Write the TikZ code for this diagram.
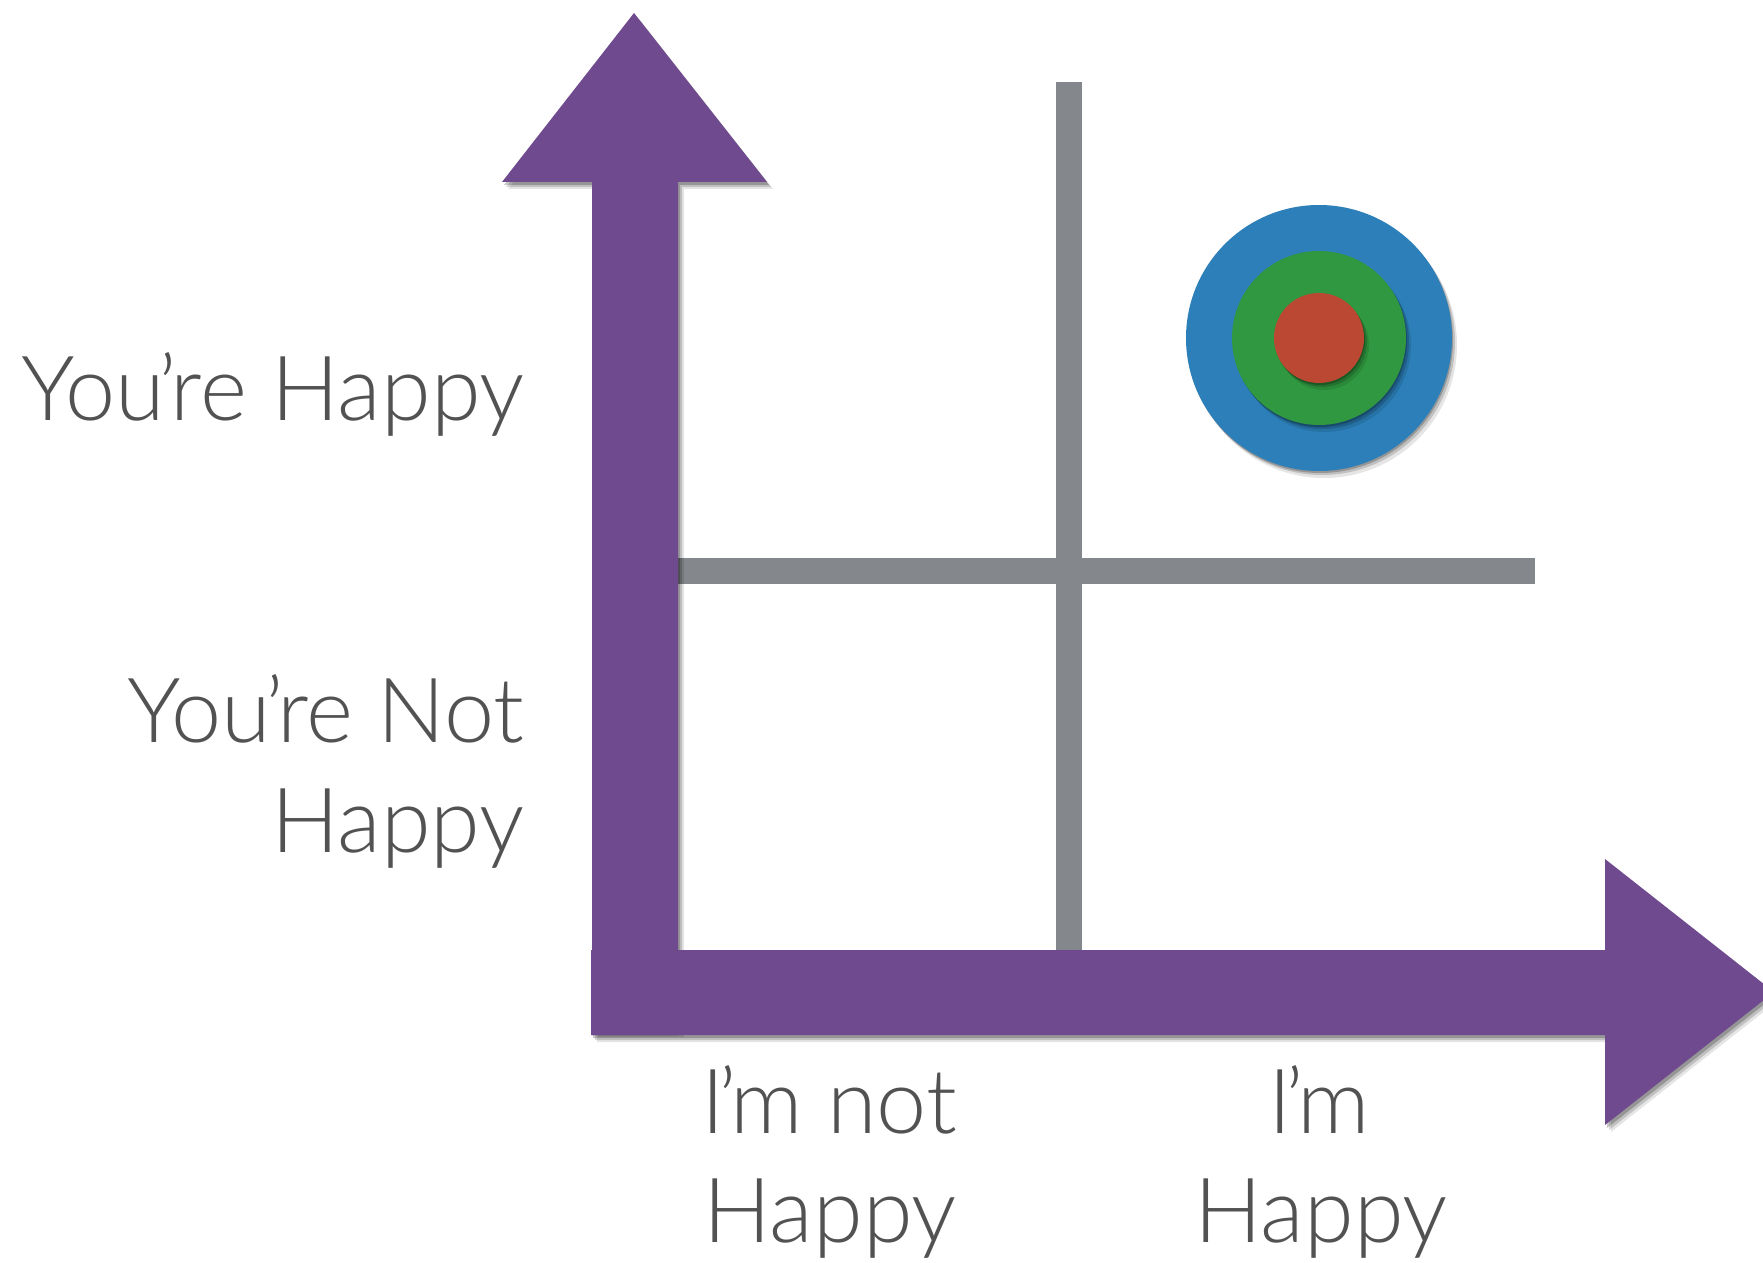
\documentclass[tikz,border=0pt]{standalone}
\usepackage{fontspec}
\setmainfont{Lato}[UprightFont=* Light]
\definecolor{feltpurple}{RGB}{111,74,143}
\definecolor{feltblue}{RGB}{44,127,184}
\definecolor{feltgreen}{RGB}{47,152,64}
\definecolor{feltred}{RGB}{187,72,50}
\definecolor{axisgray}{RGB}{132,135,139}
\definecolor{labelgray}{RGB}{82,82,82}
\newcommand\apos{\kern-0.07em’\kern-0.07em}
\tikzset{
  shadowA/.style={fill=black,opacity=0.10},
  shadowB/.style={fill=black,opacity=0.16},
  shadowC/.style={fill=black,opacity=0.22},
  labeltext/.style={text=labelgray,inner sep=0pt,font=\fontsize{45}{54}\selectfont},
  gridline/.style={fill=axisgray},
}
\def\vArrow{(592,1035) -- (592,182) -- (502,182) -- (634,13) -- (767,182) -- (678,182) -- (678,1035) -- cycle}
\def\vArrowShadow{(592,1030) -- (592,182) -- (502,182) -- (634,13) -- (767,182) -- (678,182) -- (678,1030) -- cycle}
\def\hArrow{(591,950) -- (1605,950) -- (1605,859) -- (1774,992) -- (1605,1125) -- (1605,1035) -- (591,1035) -- cycle}
\begin{document}
\begin{tikzpicture}[x=0.5pt,y=-0.5pt]
\useasboundingbox (0,0) rectangle (1763,1263);
\fill[white] (0,0) rectangle (1763,1263);
% grid lines
\fill[gridline] (1056,82) rectangle (1082,950);
\fill[gridline] (678,558) rectangle (1535,584);
% vertical arrow with shadow
\begin{scope}[shift={(6,7)}]\fill[shadowA] \vArrowShadow;\end{scope}
\begin{scope}[shift={(4,5)}]\fill[shadowB] \vArrowShadow;\end{scope}
\begin{scope}[shift={(2,3)}]\fill[shadowC] \vArrowShadow;\end{scope}
\fill[feltpurple] \vArrow;
% horizontal arrow with shadow
\begin{scope}[shift={(6,7)}]\fill[shadowA] \hArrow;\end{scope}
\begin{scope}[shift={(4,5)}]\fill[shadowB] \hArrow;\end{scope}
\begin{scope}[shift={(2,3)}]\fill[shadowC] \hArrow;\end{scope}
\fill[feltpurple] \hArrow;
% target
\foreach \r/\c in {133/feltblue,87/feltgreen,45/feltred}{
  \fill[shadowA] (1324,345) circle (\r);
  \fill[shadowB] (1322,342) circle (\r);
  \fill[shadowC] (1320,340) circle (\r);
  \fill[\c] (1319,338) circle (\r);
}
% labels
\node[labeltext,anchor=base east] (yh) at (525,420) {You\apos re Happy};
\node[labeltext,anchor=base east] (yn1) at (525,742) {You\apos re Not};
\node[labeltext,anchor=base east] (yn2) at (525,852) {Happy};
\node[labeltext,anchor=base] (in1) at (829,1133) {I\apos m not};
\node[labeltext,anchor=base] (in2) at (830,1242) {Happy};
\node[labeltext,anchor=base] (ih1) at (1319,1133) {I\apos m};
\node[labeltext,anchor=base] (ih2) at (1321,1242) {Happy};
\end{tikzpicture}
\end{document}
